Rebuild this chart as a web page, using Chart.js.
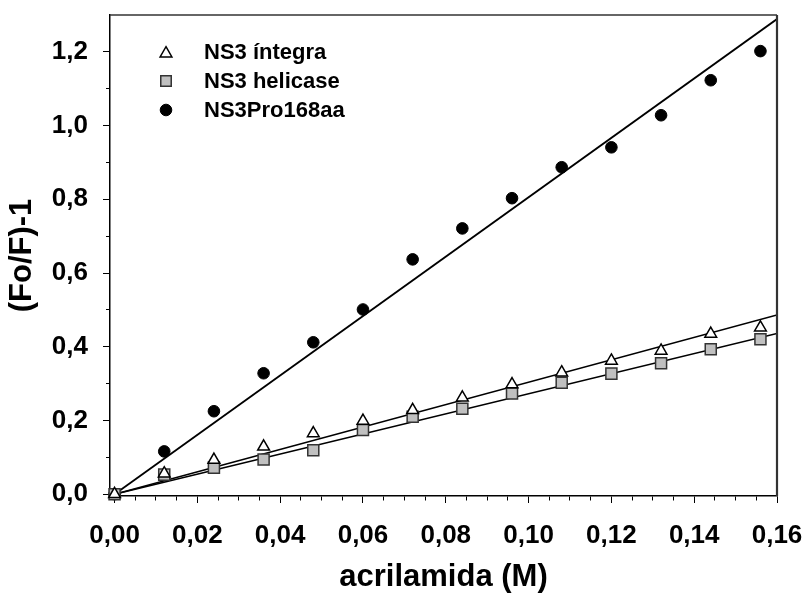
<!DOCTYPE html>
<html>
<head>
<meta charset="utf-8">
<script src="https://cdn.jsdelivr.net/npm/chart.js@4"></script>
<style>
  html, body { margin: 0; padding: 0; background: #fff; }
</style>
</head>
<body>
<canvas id="quenchChart" width="806" height="596"></canvas>
<script>
// Stern-Volmer data
const acrilamida = [0, 0.012, 0.024, 0.036, 0.048, 0.060, 0.072, 0.084, 0.096, 0.108, 0.120, 0.132, 0.144, 0.156];
const ns3Integra = [0, 0.056, 0.093, 0.129, 0.165, 0.199, 0.228, 0.262, 0.298, 0.330, 0.362, 0.389, 0.435, 0.452];
const ns3Helicase = [0, 0.053, 0.072, 0.094, 0.119, 0.174, 0.210, 0.232, 0.273, 0.302, 0.327, 0.355, 0.393, 0.420];
const ns3Pro168 = [0, 0.116, 0.225, 0.328, 0.412, 0.501, 0.637, 0.721, 0.803, 0.887, 0.941, 1.028, 1.123, 1.202];

// linear fits, value at x = 0 and x = 0.16
const fitX = [0, 0.16];
const fitIntegra = [0, 0.486];
const fitHelicase = [0, 0.436];
const fitPro168 = [0, 1.289];

const seriesNames = ["NS3 íntegra", "NS3 helicase", "NS3Pro168aa"];
const xMajorTicks = [0, 0.02, 0.04, 0.06, 0.08, 0.10, 0.12, 0.14, 0.16];
const yMajorTicks = [0, 0.2, 0.4, 0.6, 0.8, 1.0, 1.2];
const xMinorStep = 0.005;
const yMinorStep = 0.1;

const FONT = "'Liberation Sans', Arial, sans-serif";

function pts(xs, ys) {
  return xs.map((x, i) => ({ x: x, y: ys[i] }));
}

function isMajor(v, list) {
  return list.some((m) => Math.abs(m - v) < 1e-9);
}

function comma(v, d) {
  return v.toFixed(d).replace(".", ",");
}

// top and right edges of the plot box
const frame = {
  id: "frame",
  afterDraw(chart) {
    const a = chart.chartArea;
    const ctx = chart.ctx;
    ctx.save();
    ctx.strokeStyle = "#333";
    ctx.lineWidth = 1.5;
    ctx.beginPath();
    ctx.moveTo(a.left, a.top);
    ctx.lineTo(a.right, a.top);
    ctx.stroke();
    ctx.lineWidth = 2.2;
    ctx.beginPath();
    ctx.moveTo(a.right, a.top);
    ctx.lineTo(a.right, a.bottom);
    ctx.stroke();
    ctx.restore();
  }
};

// legend drawn inside the plot, top left
const insideLegend = {
  id: "insideLegend",
  afterDraw(chart) {
    const ctx = chart.ctx;
    const rows = [52, 81, 110];
    ctx.save();
    for (let i = 0; i < 3; i++) {
      const ds = chart.data.datasets[i];
      ctx.fillStyle = ds.pointBackgroundColor;
      ctx.strokeStyle = ds.pointBorderColor;
      ctx.lineWidth = ds.pointBorderWidth;
      Chart.helpers.drawPoint(ctx, {
        pointStyle: ds.pointStyle,
        radius: ds.legendRadius,
        rotation: 0,
        borderWidth: ds.pointBorderWidth
      }, 166, rows[i] + (ds.pointStyle === "triangle" ? 1.5 : 0));
      ctx.fillStyle = "#000";
      ctx.font = "bold 22px " + FONT;
      ctx.textAlign = "left";
      ctx.textBaseline = "middle";
      ctx.fillText(ds.label, 204, rows[i] + 1);
    }
    ctx.restore();
  }
};

const ctx = document.getElementById("quenchChart").getContext("2d");

new Chart(ctx, {
  type: "scatter",
  data: {
    datasets: [
      {
        label: seriesNames[0],
        data: pts(acrilamida, ns3Integra),
        pointStyle: "triangle",
        pointRadius: 6.8,
        legendRadius: 6.8,
        pointBackgroundColor: "#ffffff",
        pointBorderColor: "#000000",
        pointBorderWidth: 1.5,
        clip: false
      },
      {
        label: seriesNames[1],
        data: pts(acrilamida, ns3Helicase),
        pointStyle: "rect",
        pointRadius: 7.8,
        legendRadius: 7.4,
        pointBackgroundColor: "#c0c0c0",
        pointBorderColor: "#333333",
        pointBorderWidth: 1.5,
        clip: false
      },
      {
        label: seriesNames[2],
        data: pts(acrilamida, ns3Pro168),
        pointStyle: "circle",
        pointRadius: 5.8,
        legendRadius: 5.8,
        pointBackgroundColor: "#000000",
        pointBorderColor: "#000000",
        pointBorderWidth: 1,
        clip: false
      },
      {
        label: "fit íntegra",
        data: pts(fitX, fitIntegra),
        showLine: true,
        pointRadius: 0,
        borderColor: "#000",
        borderWidth: 1.5
      },
      {
        label: "fit helicase",
        data: pts(fitX, fitHelicase),
        showLine: true,
        pointRadius: 0,
        borderColor: "#000",
        borderWidth: 1.5
      },
      {
        label: "fit Pro168aa",
        data: pts(fitX, fitPro168),
        showLine: true,
        pointRadius: 0,
        borderColor: "#000",
        borderWidth: 1.8
      }
    ]
  },
  options: {
    responsive: false,
    animation: false,
    layout: { padding: { top: 15, right: 29, left: 0, bottom: 0 } },
    plugins: {
      legend: { display: false },
      tooltip: { enabled: false }
    },
    scales: {
      x: {
        type: "linear",
        position: "bottom",
        min: -0.0011,
        max: 0.16,
        afterBuildTicks(scale) {
          const t = [];
          for (let i = 0; i <= 32; i++) t.push({ value: +(i * xMinorStep).toFixed(3) });
          scale.ticks = t;
        },
        afterFit(scale) {
          scale.height = 100;
          scale.paddingLeft = 0;
          scale.paddingRight = 0;
        },
        ticks: {
          autoSkip: false,
          maxRotation: 0,
          padding: 17,
          color: "#000",
          font: { family: FONT, size: 26, weight: "bold" },
          callback: (v) => (isMajor(v, xMajorTicks) ? comma(v, 2) : "")
        },
        grid: {
          drawOnChartArea: false,
          tickLength: 7,
          tickColor: "#000",
          tickWidth: 1,
          tickBorderDash: (c) => (c.tick && isMajor(c.tick.value, xMajorTicks) ? [] : [4, 20])
        },
        border: { color: "#000", width: 1.5 },
        title: {
          display: true,
          text: "acrilamida (M)",
          color: "#000",
          font: { family: FONT, size: 31, weight: "bold" },
          padding: { top: 0, bottom: 0 }
        }
      },
      y: {
        type: "linear",
        position: "left",
        min: -0.005,
        max: 1.3,
        afterBuildTicks(scale) {
          const t = [];
          for (let i = 0; i <= 12; i++) t.push({ value: +(i * yMinorStep).toFixed(1) });
          scale.ticks = t;
        },
        afterFit(scale) {
          scale.width = 110;
          scale.paddingTop = 0;
          scale.paddingBottom = 0;
        },
        ticks: {
          autoSkip: false,
          padding: 15,
          color: "#000",
          font: { family: FONT, size: 26, weight: "bold" },
          callback: (v) => (isMajor(v, yMajorTicks) ? comma(v, 1) : "")
        },
        grid: {
          drawOnChartArea: false,
          tickLength: 7,
          tickColor: "#000",
          tickWidth: 1,
          tickBorderDash: (c) => (c.tick && isMajor(c.tick.value, yMajorTicks) ? [] : [0, 3, 4, 20])
        },
        border: { color: "#000", width: 1.5 },
        title: {
          display: true,
          text: "(Fo/F)-1",
          color: "#000",
          font: { family: FONT, size: 31, weight: "bold" },
          padding: { top: 4, bottom: 0 }
        }
      }
    }
  },
  plugins: [frame, insideLegend]
});
</script>
</body>
</html>
